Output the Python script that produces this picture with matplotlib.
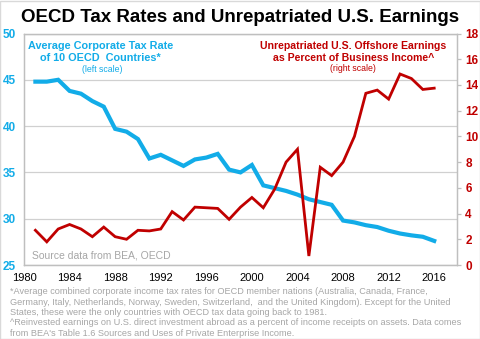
import matplotlib
matplotlib.use("Agg")
import matplotlib.pyplot as plt
from matplotlib.patches import Rectangle

# OECD average corporate tax rate (left scale) and unrepatriated earnings (right scale)
years = list(range(1981, 2017))
oecd_tax_rate = [44.8, 44.8, 45.0, 43.8, 43.5, 42.7, 42.1, 39.7, 39.4, 38.6,
                 36.5, 36.9, 36.3, 35.7, 36.4, 36.6, 37.0, 35.3, 35.0, 35.8,
                 33.6, 33.3, 33.0, 32.6, 32.1, 31.8, 31.5, 29.8, 29.6, 29.3,
                 29.1, 28.7, 28.4, 28.2, 28.05, 27.6]
unrepatriated_pct = [2.7, 1.8, 2.8, 3.15, 2.8, 2.2, 2.95, 2.2, 2.0, 2.7,
                     2.65, 2.8, 4.15, 3.5, 4.5, 4.45, 4.4, 3.55, 4.5, 5.25,
                     4.45, 5.9, 8.0, 9.0, 0.7, 7.6, 6.95, 8.0, 10.0, 13.35,
                     13.6, 12.9, 14.85, 14.5, 13.65, 13.75]

x_ticks = list(range(1980, 2017, 4))
left_ticks = [25, 30, 35, 40, 45, 50]
right_ticks = list(range(0, 19, 2))

BLUE = "#12ACE8"
RED = "#C00000"
GRAY = "#A6A6A6"
GRID = "#D0D0D0"

plt.rcParams['font.family'] = ['Liberation Sans', 'DejaVu Sans']

fig = plt.figure(figsize=(4.81, 3.39), dpi=100)
ax = fig.add_axes([24 / 481, 1 - 265 / 339, 433 / 481, 231.5 / 339])
ax2 = ax.twinx()

ax.plot(years, oecd_tax_rate, color=BLUE, lw=3.0, solid_joinstyle='miter', zorder=3)
ax2.plot(years, unrepatriated_pct, color=RED, lw=2.0, solid_joinstyle='miter', zorder=3)

ax.set_xlim(1980, 2018)
ax.set_ylim(25, 50)
ax2.set_ylim(0, 18)
ax.set_xticks(x_ticks)
ax.set_yticks(left_ticks)
ax2.set_yticks(right_ticks)

ax.grid(axis='y', color=GRID, lw=0.9)
ax.set_axisbelow(True)
for a in (ax, ax2):
    for s in a.spines.values():
        s.set_color("#BFBFBF")
        s.set_linewidth(0.9)

ax.tick_params(axis='x', length=0, pad=5.5, labelsize=8, labelcolor='black')
ax.tick_params(axis='y', length=0, pad=6, labelsize=8.5, labelcolor=BLUE)
ax2.tick_params(axis='y', length=3, width=0.9, color="#BFBFBF", pad=3, labelsize=8.5, labelcolor=RED)
for lab in ax.get_yticklabels():
    lab.set_fontweight('bold')
for lab in ax2.get_yticklabels():
    lab.set_fontweight('bold')

# series captions
ax.text(1986.7, 48.65, "Average Corporate Tax Rate", color=BLUE, ha='center', va='center', fontsize=7.8, fontweight='bold')
ax.text(1986.7, 47.35, "of 10 OECD  Countries*", color=BLUE, ha='center', va='center', fontsize=7.8, fontweight='bold')
ax.text(1986.9, 46.1, "(left scale)", color=BLUE, ha='center', va='center', fontsize=6.3)
ax.text(2008.9, 48.65, "Unrepatriated U.S. Offshore Earnings", color=RED, ha='center', va='center', fontsize=7.6, fontweight='bold')
ax.text(2008.9, 47.35, "as Percent of Business Income^", color=RED, ha='center', va='center', fontsize=7.6, fontweight='bold')
ax.text(2008.9, 46.25, "(right scale)", color=RED, ha='center', va='center', fontsize=6.3)
ax.text(1980.7, 26.0, "Source data from BEA, OECD", color=GRAY, ha='left', va='center', fontsize=7.5)

fig.text(0.5, 1 - 17 / 339, "OECD Tax Rates and Unrepatriated U.S. Earnings",
         ha='center', va='center', fontsize=13.5, fontweight='bold')

footnotes = [
    "*Average combined corporate income tax rates for OECD member nations (Australia, Canada, France,",
    "Germany, Italy, Netherlands, Norway, Sweden, Switzerland,  and the United Kingdom). Except for the United",
    "States, these were the only countries with OECD tax data going back to 1981.",
    "^Reinvested earnings on U.S. direct investment abroad as a percent of income receipts on assets. Data comes",
    "from BEA's Table 1.6 Sources and Uses of Private Enterprise Income.",
]
for i, line in enumerate(footnotes):
    fig.text(10 / 481, 1 - (292 + i * 10.3) / 339, line, ha='left', va='center', fontsize=6.6, color=GRAY)

fig.add_artist(Rectangle((0.001, 0.001), 0.997, 0.997, transform=fig.transFigure,
                         fill=False, edgecolor="#D9D9D9", lw=1.0))

fig.savefig("out.png", dpi=100)
